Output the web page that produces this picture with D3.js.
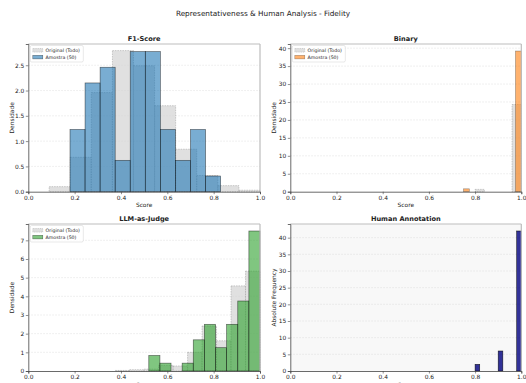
<!DOCTYPE html>
<html>
<head>
<meta charset="utf-8">
<script src="https://cdn.jsdelivr.net/npm/d3@7"></script>
<style>
  body { margin: 0; background: #fff; }
  text { font-family: "DejaVu Sans", sans-serif; fill: #222; }
</style>
</head>
<body>
<svg id="canvas" width="526" height="383"></svg>
<script>
// values (density per bin, counts for the last panel)
let xTicks = [0, 0.2, 0.4, 0.6, 0.8, 1.0]

let f1OrigEdges = [0.09, 0.181, 0.272, 0.363, 0.454, 0.545, 0.636, 0.727, 0.818, 0.909, 1.0]
let f1OrigDens = [0.10, 0.68, 1.96, 2.79, 2.49, 1.70, 0.84, 0.32, 0.12, 0.03]
let f1SampEdges = [0.18, 0.245, 0.31, 0.375, 0.44, 0.505, 0.57, 0.635, 0.70, 0.765, 0.83]
let f1SampDens = [1.23, 2.15, 2.46, 0.62, 2.77, 2.77, 1.23, 0.62, 1.23, 0.31]
let f1YTicks = [0, 0.5, 1.0, 1.5, 2.0, 2.5]

let binOrigEdges = [0.6, 0.64, 0.68, 0.72, 0.76, 0.8, 0.84, 0.88, 0.92, 0.96, 1.0]
let binOrigDens = [0, 0, 0, 0, 0, 0.65, 0, 0, 0, 24.3]
let binSampEdges = [0.75, 0.775, 0.8, 0.825, 0.85, 0.875, 0.9, 0.925, 0.95, 0.975, 1.0]
let binSampDens = [0.8, 0, 0, 0, 0, 0, 0, 0, 0, 39.2]
let binYTicks = [0, 5, 10, 15, 20, 25, 30, 35, 40]

let llmOrigEdges = [0.375, 0.4375, 0.5, 0.5625, 0.625, 0.6875, 0.75, 0.8125, 0.875, 0.9375, 1.0]
let llmOrigDens = [0.03, 0.07, 0.10, 0.30, 0.27, 1.00, 2.41, 1.62, 4.56, 5.35]
let llmSampEdges = [0.52, 0.568, 0.616, 0.664, 0.712, 0.76, 0.808, 0.856, 0.904, 0.952, 1.0]
let llmSampDens = [0.83, 0.42, 0, 0.42, 1.67, 2.5, 1.25, 2.5, 3.75, 7.5]
let llmYTicks = [0, 1, 2, 3, 4, 5, 6, 7]

let humEdges = [0.8, 0.82, 0.84, 0.86, 0.88, 0.9, 0.92, 0.94, 0.96, 0.98, 1.0]
let humCounts = [2, 0, 0, 0, 0, 6, 0, 0, 0, 42]
let humYTicks = [0, 5, 10, 15, 20, 25, 30, 35, 40]

let legendLabels = ['Original (Todo)', 'Amostra (50)']

let svg = d3.select('#canvas')

svg.append('text')
   .attr('x', 263).attr('y', 15.5)
   .attr('text-anchor', 'middle')
   .style('font-size', '7.3px')
   .text('Representativeness & Human Analysis - Fidelity')

let toBins = (edges, vals) => vals.map((v, i) => ({x0: edges[i], x1: edges[i + 1], v: v})).filter(d => d.v > 0)

let drawPanel = (opt) => {
    let x = d3.scaleLinear().domain([0, 1]).range([opt.left, opt.right])
    let y = d3.scaleLinear().domain([0, opt.ymax]).range([opt.bottom, opt.top])
    let g = svg.append('g')

    g.append('rect')
     .attr('x', opt.left).attr('y', opt.top)
     .attr('width', opt.right - opt.left).attr('height', opt.bottom - opt.top)
     .attr('fill', opt.bg || '#fff')

    // grid
    g.selectAll('.grid')
     .data(opt.yTicks.filter(t => t > 0))
     .enter()
     .append('line')
     .attr('x1', opt.left).attr('x2', opt.right)
     .attr('y1', d => y(d)).attr('y2', d => y(d))
     .attr('stroke', '#d6d6d6').attr('stroke-width', 0.5)
     .attr('stroke-dasharray', '1.5,1.5')

    opt.series.forEach(s => {
        g.selectAll(null)
         .data(toBins(s.edges, s.vals))
         .enter()
         .append('rect')
         .attr('x', d => x(d.x0))
         .attr('y', d => y(d.v))
         .attr('width', d => x(d.x1) - x(d.x0))
         .attr('height', d => y(0) - y(d.v))
         .attr('fill', s.fill)
         .attr('fill-opacity', s.alpha)
         .attr('stroke', s.stroke)
         .attr('stroke-opacity', s.strokeAlpha)
         .attr('stroke-width', s.strokeWidth)
         .attr('stroke-dasharray', s.dash || null)
    })

    // spines
    g.append('line').attr('x1', opt.left).attr('x2', opt.right).attr('y1', opt.top).attr('y2', opt.top)
     .attr('stroke', '#bdbdbd').attr('stroke-width', 1.2)
    g.append('line').attr('x1', opt.right).attr('x2', opt.right).attr('y1', opt.top).attr('y2', opt.bottom)
     .attr('stroke', '#bdbdbd').attr('stroke-width', 1.2)

    let xAxis = g.append('g')
     .attr('transform', `translate(0,${opt.bottom})`)
     .call(d3.axisBottom(x).tickValues(xTicks).tickFormat(d3.format('.1f')).tickSize(2.5).tickPadding(1.5))
    let yAxis = g.append('g')
     .attr('transform', `translate(${opt.left},0)`)
     .call(d3.axisLeft(y).tickValues(opt.yTicks).tickFormat(opt.yFormat).tickSize(2.5).tickPadding(1.5))
    ;[xAxis, yAxis].forEach(a => {
        a.selectAll('text').style('font-size', '5.9px').attr('fill', '#333')
        a.selectAll('line').attr('stroke', '#444').attr('stroke-width', 0.6)
        a.select('.domain').attr('stroke', '#444').attr('stroke-width', 0.8)
    })

    g.append('text')
     .attr('x', (opt.left + opt.right) / 2).attr('y', opt.top - 3)
     .attr('text-anchor', 'middle')
     .style('font-size', '6.6px').style('font-weight', 'bold')
     .text(opt.title)

    g.append('text')
     .attr('transform', `translate(${opt.left - 14.5},${(opt.top + opt.bottom) / 2}) rotate(-90)`)
     .attr('text-anchor', 'middle')
     .style('font-size', '5.9px')
     .text(opt.ylabel)

    g.append('text')
     .attr('x', (opt.left + opt.right) / 2).attr('y', opt.bottom + 15.5)
     .attr('text-anchor', 'middle')
     .style('font-size', '5.9px')
     .text('Score')

    if (opt.legend) {
        let lg = g.append('g').attr('transform', `translate(${opt.left + 2},${opt.top + 1.5})`)
        lg.append('rect')
          .attr('width', 53).attr('height', 16.5).attr('rx', 1.5)
          .attr('fill', '#fff').attr('fill-opacity', 0.8)
          .attr('stroke', '#d0d0d0').attr('stroke-width', 0.5)
        opt.series.forEach((s, i) => {
            lg.append('rect')
              .attr('x', 2.5).attr('y', 3 + i * 6.8)
              .attr('width', 10).attr('height', 3.6)
              .attr('fill', s.fill).attr('fill-opacity', s.alpha)
              .attr('stroke', s.stroke).attr('stroke-opacity', s.strokeAlpha)
              .attr('stroke-width', 0.5)
              .attr('stroke-dasharray', s.dash ? '1,0.8' : null)
            lg.append('text')
              .attr('x', 15.3).attr('y', 6.5 + i * 6.8)
              .style('font-size', '4.7px')
              .text(legendLabels[i])
        })
    }
}

let gray = {fill: '#d3d3d3', alpha: 0.7, stroke: '#8c8c8c', strokeAlpha: 0.7, strokeWidth: 0.6, dash: '1.5,1'}

drawPanel({
    left: 28.3, right: 260, top: 44, bottom: 191.7, ymax: 2.92,
    title: 'F1-Score', ylabel: 'Densidade', yTicks: f1YTicks, yFormat: d3.format('.1f'), legend: true,
    series: [
        Object.assign({edges: f1OrigEdges, vals: f1OrigDens}, gray),
        {edges: f1SampEdges, vals: f1SampDens, fill: '#1f77b4', alpha: 0.6, stroke: '#000', strokeAlpha: 0.55, strokeWidth: 0.7}
    ]
})

drawPanel({
    left: 290.3, right: 521.3, top: 44, bottom: 191.7, ymax: 41.16,
    title: 'Binary', ylabel: 'Densidade', yTicks: binYTicks, yFormat: d3.format('d'), legend: true,
    series: [
        Object.assign({edges: binOrigEdges, vals: binOrigDens}, gray),
        {edges: binSampEdges, vals: binSampDens, fill: '#ff7f0e', alpha: 0.6, stroke: '#000', strokeAlpha: 0.4, strokeWidth: 0.6}
    ]
})

drawPanel({
    left: 28.3, right: 260, top: 224, bottom: 371, ymax: 7.875,
    title: 'LLM-as-Judge', ylabel: 'Densidade', yTicks: llmYTicks, yFormat: d3.format('d'), legend: true,
    series: [
        Object.assign({edges: llmOrigEdges, vals: llmOrigDens}, gray),
        {edges: llmSampEdges, vals: llmSampDens, fill: '#2ca02c', alpha: 0.6, stroke: '#000', strokeAlpha: 0.55, strokeWidth: 0.7}
    ]
})

drawPanel({
    left: 290.3, right: 521.3, top: 224, bottom: 371, ymax: 44.1, bg: '#f8f8f8',
    title: 'Human Annotation', ylabel: 'Absolute Frequency', yTicks: humYTicks, yFormat: d3.format('d'), legend: false,
    series: [
        {edges: humEdges, vals: humCounts, fill: '#000080', alpha: 0.8, stroke: '#000', strokeAlpha: 0.8, strokeWidth: 0.6}
    ]
})
</script>
</body>
</html>
